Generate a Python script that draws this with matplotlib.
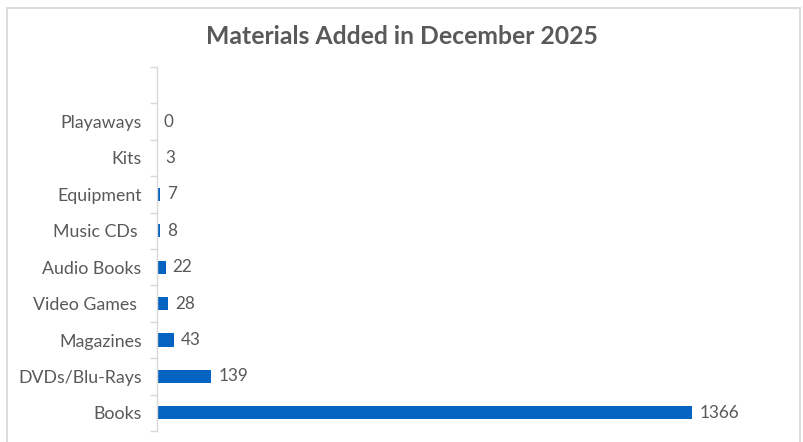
import matplotlib
matplotlib.use("Agg")
import matplotlib.pyplot as plt
from matplotlib.patches import Rectangle
import numpy as np

# bottom-to-top order, as the bars stack up from the axis
categories = ["Books", "DVDs/Blu-Rays", "Magazines", "Video Games ", "Audio Books",
              "Music CDs ", "Equipment", "Kits", "Playaways"]
counts = [1366, 139, 43, 28, 22, 8, 7, 3, 0]

title = "Materials Added in December 2025"
bar_color = "#0563C1"
text_color = "#595959"
line_color = "#D9D9D9"

plt.rcParams["font.family"] = ["Lato", "DejaVu Sans"]

fig = plt.figure(figsize=(8.04, 4.42), dpi=100)
fig.patch.set_facecolor("white")

# chart-area border
fig.patches.append(Rectangle((7 / 804, -0.05), 793 / 804, 1.05 - 8 / 442,
                             transform=fig.transFigure, fill=False,
                             edgecolor=line_color, linewidth=1.3))

ax = fig.add_axes([157 / 804, 11 / 442, 627 / 804, 364 / 442])

y = np.arange(len(categories))
bars = ax.barh(y, counts, height=0.36, color=bar_color)

ax.set_xlim(0, 1600)
# one empty slot above the top category
ax.set_ylim(-0.5, len(categories) + 0.5)

for s in ["top", "right", "bottom"]:
    ax.spines[s].set_visible(False)
ax.spines["left"].set_color(line_color)
ax.spines["left"].set_linewidth(1.0)

ax.set_xticks([])
ax.set_yticks(y)
ax.set_yticklabels(categories, fontsize=12.8, color=text_color)
ax.tick_params(axis="y", which="major", length=0, pad=11)
ax.set_yticks(np.arange(-0.5, len(categories) + 0.6, 1), minor=True)
ax.tick_params(axis="y", which="minor", length=5, width=1.0, color=line_color)

for yi, v in zip(y, counts):
    ax.annotate(str(v), (v, yi), xytext=(5, 0), textcoords="offset points",
                va="center", ha="left", fontsize=12.3, color=text_color)

fig.text(0.5, 1 - 36 / 442, title, ha="center", va="center",
         fontsize=17.8, fontweight="bold", color=text_color)

fig.savefig("out.png", dpi=100)
